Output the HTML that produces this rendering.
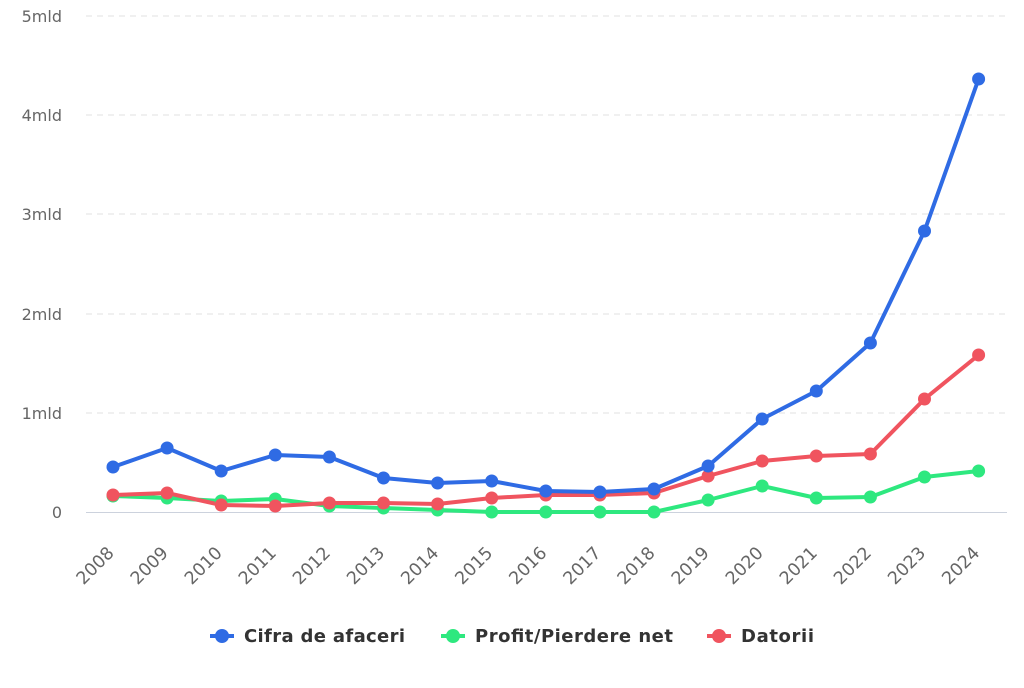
<!DOCTYPE html>
<html><head><meta charset="utf-8"><style>
body{margin:0;background:#fff;width:1024px;height:683px;overflow:hidden;font-family:"Liberation Sans",sans-serif}
</style></head><body>
<svg width="1024" height="683" xmlns="http://www.w3.org/2000/svg" font-family="DejaVu Sans, sans-serif">
<g stroke="#e0e0e0" stroke-dasharray="6,5" stroke-width="1">
<line x1="86" x2="1007" y1="16" y2="16"/><line x1="86" x2="1007" y1="115" y2="115"/><line x1="86" x2="1007" y1="214" y2="214"/><line x1="86" x2="1007" y1="314" y2="314"/><line x1="86" x2="1007" y1="413" y2="413"/>
</g>
<line x1="86" x2="1007" y1="512.5" y2="512.5" stroke="#ccd2dd" stroke-width="1"/>
<g fill="#666" font-size="16" text-anchor="end">
<text x="62" y="22">5mld</text><text x="62" y="121">4mld</text><text x="62" y="220">3mld</text><text x="62" y="320">2mld</text><text x="62" y="419">1mld</text><text x="62" y="518">0</text>
</g>
<g fill="#666" font-size="17.5" text-anchor="end" id="xl"></g>
<g fill="none" stroke-width="4" stroke-linejoin="round">
<polyline id="g" stroke="#2ee87f"/><polyline id="r" stroke="#f0545f"/><polyline id="b" stroke="#2f6be4"/>
</g>
<g id="pts"></g>
<g font-size="18" font-weight="bold" fill="#333">
<circle cx="222" cy="636" r="7" fill="#2f6be4"/><line x1="210" x2="234" y1="636" y2="636" stroke="#2f6be4" stroke-width="4"/><text x="244" y="642" textLength="161">Cifra de afaceri</text>
<circle cx="453" cy="636" r="7" fill="#2ee87f"/><line x1="441" x2="465" y1="636" y2="636" stroke="#2ee87f" stroke-width="4"/><text x="475" y="642" textLength="198">Profit/Pierdere net</text>
<circle cx="719" cy="636" r="7" fill="#f0545f"/><line x1="707" x2="731" y1="636" y2="636" stroke="#f0545f" stroke-width="4"/><text x="741" y="642" textLength="73">Datorii</text>
</g>
<script>
var x0=113,st=54.1;
var B=[467,448,471,455,457,478,483,481,491,492,489,466,419,391,343,231,79];
var G=[496,498,501,499,506,508,510,512,512,512,512,500,486,498,497,477,471];
var R=[495,493,505,506,503,503,504,498,495,495,493,476,461,456,454,399,355];
var ns="http://www.w3.org/2000/svg";
function pl(id,a,c){var s=a.map(function(y,i){return (x0+i*st)+","+y}).join(" ");document.getElementById(id).setAttribute("points",s);
var g=document.getElementById("pts");a.forEach(function(y,i){var e=document.createElementNS(ns,"circle");e.setAttribute("cx",x0+i*st);e.setAttribute("cy",y);e.setAttribute("r",6.5);e.setAttribute("fill",c);g.appendChild(e)});}
pl("g",G,"#2ee87f");pl("r",R,"#f0545f");pl("b",B,"#2f6be4");
var xl=document.getElementById("xl");
for(var i=0;i<17;i++){var t=document.createElementNS(ns,"text");var x=x0+i*st+2,y=554;t.setAttribute("x",x);t.setAttribute("y",y);t.setAttribute("transform","rotate(-45 "+x+" "+y+")");t.textContent=2008+i;xl.appendChild(t);}
</script>
</svg>
</body></html>
